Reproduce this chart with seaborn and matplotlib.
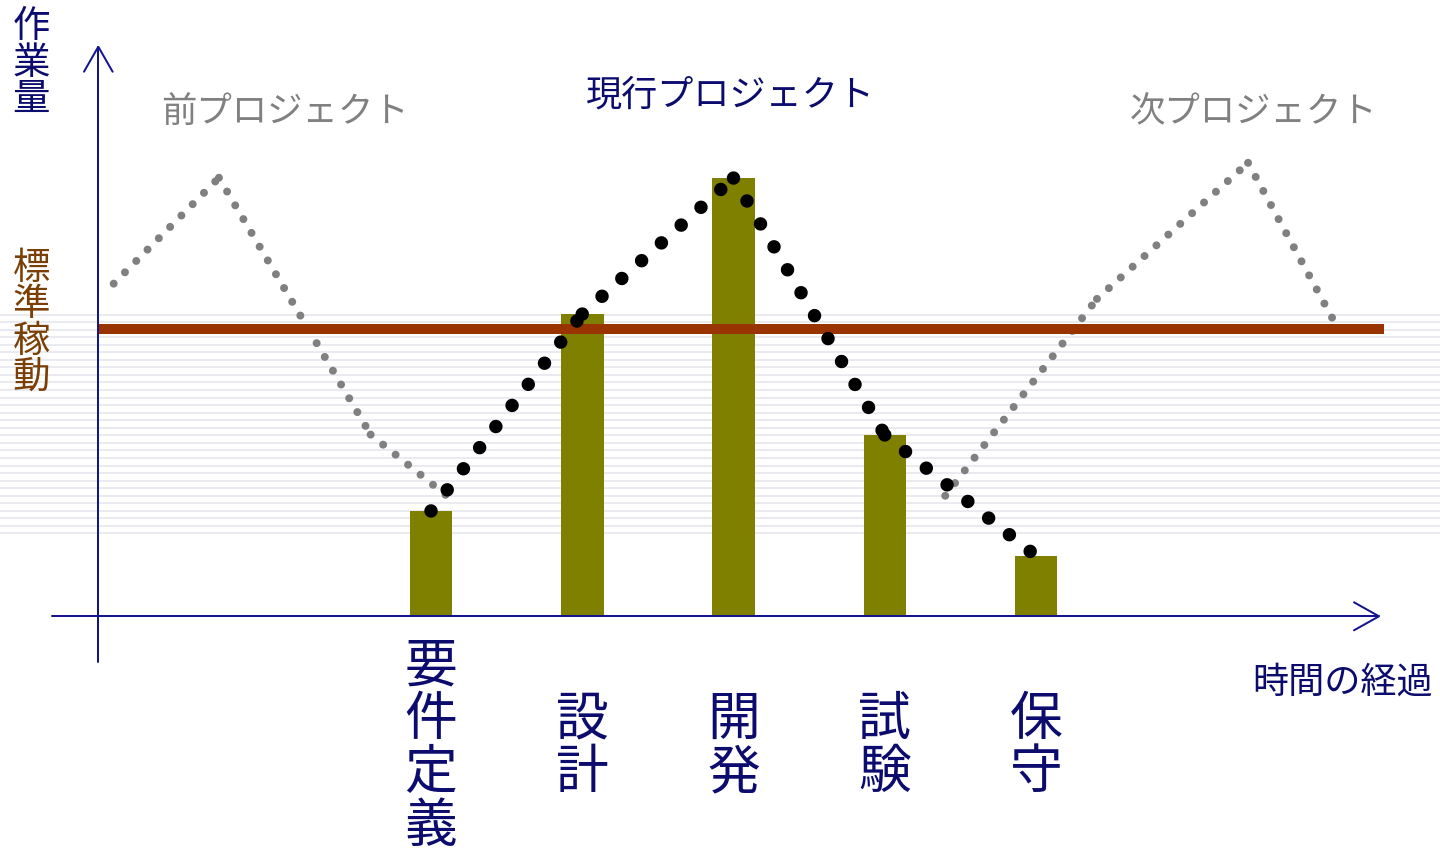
import numpy as np
import pandas as pd
import matplotlib
matplotlib.use("Agg")
import matplotlib.pyplot as plt
import matplotlib.transforms as mtransforms
import seaborn as sns

# ---------------- data ----------------
phases = ["要件定義", "設計", "開発", "試験", "保守"]
phase_time = [1, 2, 3, 4, 5]
phase_work = [36.6, 105.2, 152.6, 63.1, 20.9]

current_time = [1, 2, 3, 4, 5]
current_work = [36.6, 105.2, 152.6, 63.1, 20.9]

prev_time = [-1.098, -0.402, 0.601, 1.106]
prev_work = [115.8, 152.7, 63.2, 41.8]

next_time = [4.400, 5.403, 6.402, 6.958]
next_work = [41.9, 110.5, 157.9, 103.9]

standard_work = 100

title_prev = "前プロジェクト"
title_current = "現行プロジェクト"
title_next = "次プロジェクト"
y_label = "作業量"
std_label = "標準稼動"
x_label = "時間の経過"

# ---------------- style ----------------
sns.set_theme(style="white")
plt.rcParams["font.family"] = ["Noto Sans CJK JP", "DejaVu Sans"]

NAVY = "#0c0c6e"
AXIS = "#14148f"
OLIVE = "#808000"
RUST = "#993300"
GRAY = "#808080"
BROWN = "#7a3f05"

W, H = 1440, 854
X0, XS = 279.75, 151.25   # pixel x = X0 + t*XS
Y0, YS = 617.0, 2.87      # pixel y = Y0 - w*YS

fig = plt.figure(figsize=(W / 100, H / 100), dpi=100)
fig.patch.set_facecolor("white")
ax = fig.add_axes([0, 0, 1, 1])
pix = mtransforms.Affine2D().scale(1 / W, -1 / H).translate(0, 1) + fig.transFigure
xpix = mtransforms.blended_transform_factory(ax.transData, pix)

# faint horizontal stripes
for k in range(30):
    yy = 315.5 + 7.55 * k
    ax.plot([0, W], [yy, yy], transform=pix, color="#e5e5ee", lw=1.6 * 0.72,
            zorder=0, clip_on=False, solid_capstyle="butt")

# bars
bars = pd.DataFrame({"time": phase_time, "work": phase_work, "phase": phases})
sns.barplot(data=bars, x="time", y="work", native_scale=True, width=42.5 / XS,
            color=OLIVE, saturation=1, errorbar=None, linewidth=0, ax=ax, zorder=3)


def dotted(ts, ws, color, lw_px, gap_px, z):
    lw = lw_px * 0.72
    for i in range(len(ts) - 1):
        seg = pd.DataFrame({"t": ts[i:i + 2], "w": ws[i:i + 2]})
        sns.lineplot(data=seg, x="t", y="w", ax=ax, color=color, linewidth=lw,
                     linestyle=(0, (0.001, gap_px / lw_px)), dash_capstyle="round",
                     sort=False, estimator=None, zorder=z, legend=False)


dotted(prev_time, prev_work, GRAY, 8.0, 16.0, 2)
dotted(next_time, next_work, GRAY, 8.0, 16.0, 2)

# standard line
ax.hlines(standard_work, (98.3 - X0) / XS, (1383.7 - X0) / XS, colors=RUST,
          linewidth=10 * 0.72, zorder=4)

dotted(current_time, current_work, "black", 13.5, 26.6, 5)

# axes arrows
alw = 2.0 * 0.72
ax.plot([98.3, 98.3], [663, 48], transform=pix, color=AXIS, lw=alw, zorder=6, clip_on=False)
ax.plot([84, 98.3, 112.6], [72.7, 47.7, 72.7], transform=pix, color=AXIS, lw=alw, zorder=6,
        clip_on=False, solid_joinstyle="miter")
ax.plot([52, 1379], [617.3, 617.3], transform=pix, color=AXIS, lw=alw, zorder=6, clip_on=False)
ax.plot([1354, 1379, 1354], [603.3, 617.3, 631.3], transform=pix, color=AXIS, lw=alw, zorder=6,
        clip_on=False, solid_joinstyle="miter")

ax.set_xlim(-X0 / XS, (W - X0) / XS)
ax.set_ylim((Y0 - H) / YS, Y0 / YS)
ax.set_axis_off()


def vtext(s, x, y_first, pitch, transform, **kw):
    for i, ch in enumerate(s):
        ax.text(x, y_first + i * pitch, ch, transform=transform, ha="center", va="center", **kw)


# titles
ax.text(285, 112, title_prev, transform=pix, ha="center", va="center", fontsize=25.5, color=GRAY)
ax.text(730, 96, title_current, transform=pix, ha="center", va="center", fontsize=26, color=NAVY)
ax.text(1253.5, 112, title_next, transform=pix, ha="center", va="center", fontsize=25.5, color=GRAY)

# vertical labels
vtext(y_label, 31.5, 27, 36.3, pix, fontsize=27, color=NAVY)
vtext(std_label, 31.5, 268.7, 36.3, pix, fontsize=27, color=BROWN)

for t, name in zip(phase_time, phases):
    n = len(name)
    pitch = 53.5
    first = 746 - (n - 1) * pitch / 2
    vtext(name, t, first, pitch, xpix, fontsize=38, color=NAVY)

ax.text(1343, 683, x_label, transform=pix, ha="center", va="center", fontsize=26, color=NAVY)

fig.savefig("out.png", dpi=100, facecolor="white")
